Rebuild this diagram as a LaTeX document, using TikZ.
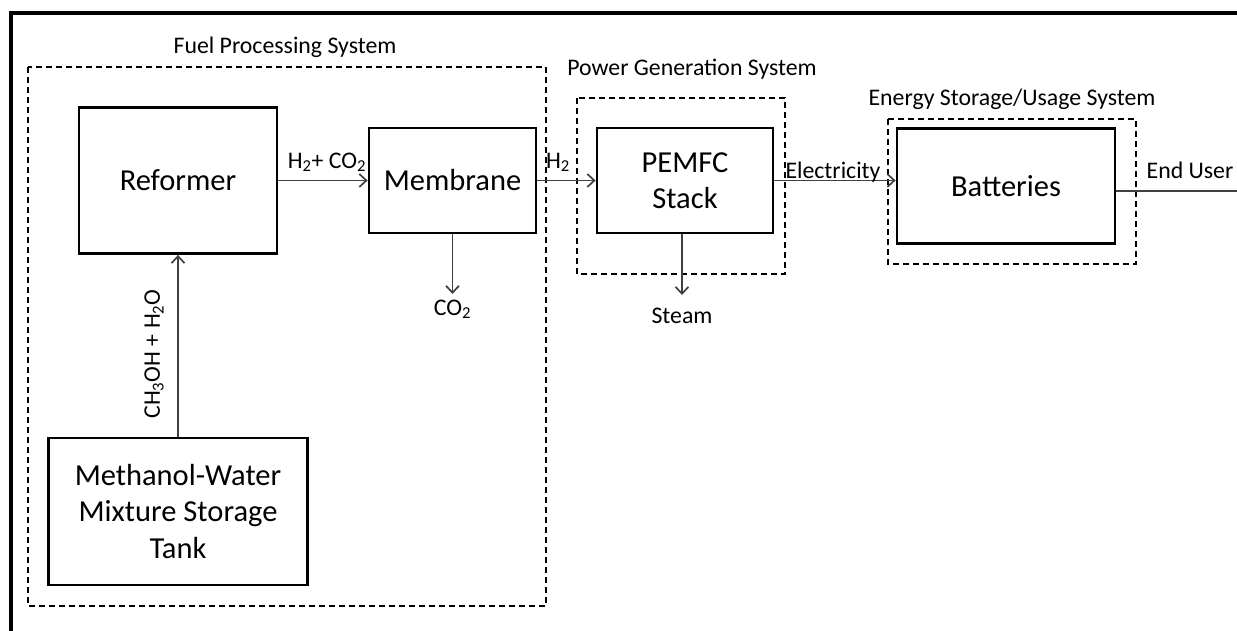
\documentclass[tikz,border=0pt]{standalone}
\usepackage{fontspec}
\setmainfont{Carlito}
\usetikzlibrary{arrows.meta}
\begin{document}
\begin{tikzpicture}[x=1pt, y=-1pt, >={Straight Barb[length=7pt,width=13pt]},
  block/.style={draw, rectangle, align=center, line width=2.8pt, font=\fontsize{30.5}{36.5}\selectfont},
  group/.style={draw, line width=1.3pt, dash pattern=on 6pt off 4pt},
  flow/.style={->, line width=1.7pt, draw=black!75},
  tag/.style={font=\fontsize{23.8}{27}\selectfont, inner sep=0pt, anchor=base}]
\useasboundingbox (0,0) rectangle (1237,630);
\draw[line width=4pt] (11,650) -- (11,13) -- (1260,13);

% the three systems
\draw[group] (28,67) rectangle (546,606);
\node[tag] (fps) at (285,53) {Fuel Processing System};
\draw[group] (577,98) rectangle (785,274);
\node[tag] (pgs) at (692,75) {Power Generation System};
\draw[group] (888,119) rectangle (1136,264);
\node[tag] (esus) at (1012,105) {Energy Storage/Usage System};

% units
\node[block, minimum width=198pt, minimum height=146pt] (ref) at (178,180.5) {Reformer};
\node[block, minimum width=167pt, minimum height=105pt] (mem) at (452.5,180.5) {Membrane};
\node[block, minimum width=176pt, minimum height=105pt] (fc) at (685,180.5) {PEMFC\\Stack};
\node[block, minimum width=218pt, minimum height=115pt] (bat) at (1006,186) {Batteries};
\node[block, minimum width=259pt, minimum height=147pt] (tank) at (178,511.5) {Methanol-Water\\Mixture Storage\\Tank};

% streams
\draw[flow] (tank.north) -- (ref.south);
\node[tag, rotate=90, anchor=center] (feed) at (154,354) {CH\textsubscript{3}OH + H\textsubscript{2}O};
\draw[flow] (ref) -- (mem);
\node[tag] (mix) at (327,168) {H\textsubscript{2}+ CO\textsubscript{2}};
\draw[flow] (mem) -- (fc);
\node[tag] (hyd) at (558,168) {H\textsubscript{2}};
\draw[flow] (fc.east) -- (fc.east -| bat.west);
\node[tag] (elec) at (833,178) {Electricity};
\coordinate (co2end) at (452.5,294);
\draw[flow] (mem.south) -- (co2end);
\node[tag] (co2) at (452.5,315) {CO\textsubscript{2}};
\coordinate (steamend) at (682,295);
\draw[flow] (fc.south -| steamend) -- (steamend);
\node[tag] (steam) at (682,323) {Steam};
\coordinate (user) at (1245,191);
\draw[line width=1.7pt, draw=black!75] (user -| bat.east) -- (user);
\node[tag] (enduser) at (1190,178) {End User};
\end{tikzpicture}
\end{document}
